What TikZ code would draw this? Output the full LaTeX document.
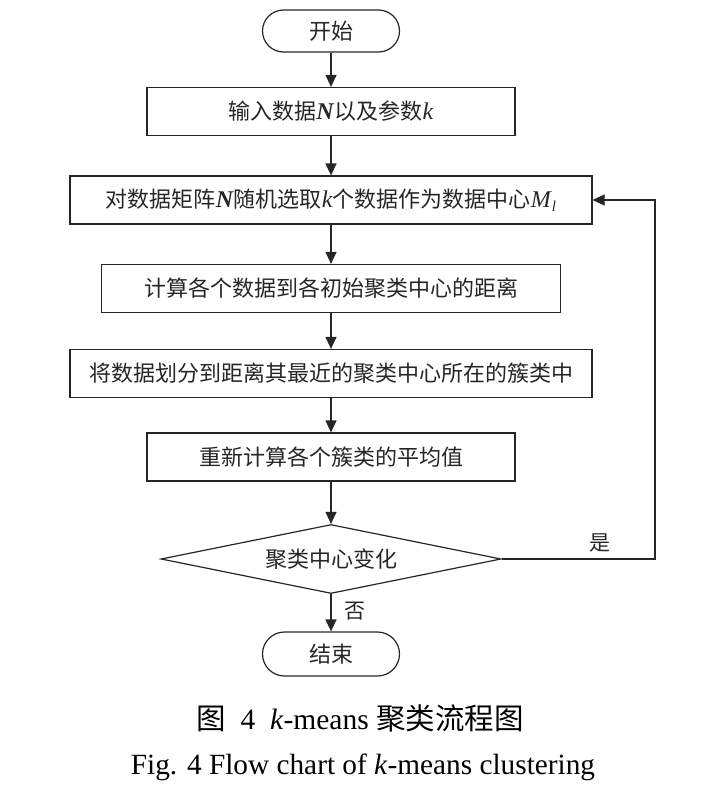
\documentclass[tikz,border=0pt]{standalone}
\usepackage{fontspec}
\setmainfont{Liberation Serif}
\newfontfamily\cjk{Noto Sans CJK SC}
\usetikzlibrary{shapes.geometric,arrows.meta}
\newcommand{\zh}[1]{{\cjk #1}}
\newcommand{\lt}[1]{{\fontsize{24}{25}\selectfont #1}}
\newcommand{\bN}{\lt{\textbf{\textit{N}}}}
\begin{document}
\begin{tikzpicture}[x=1pt,y=-1pt,
  every node/.style={text=black!85, font=\fontsize{22}{25}\selectfont},
  proc/.style={draw=black!85, line width=1.2pt, rectangle, minimum height=48pt, inner sep=0pt},
  term/.style={draw=black!85, line width=1.2pt, rectangle, rounded corners=21pt, minimum width=137pt, minimum height=42pt, inner sep=0pt},
  decis/.style={draw=black!85, line width=1.2pt, diamond, aspect=4.93, minimum width=340pt, minimum height=69pt, inner sep=0pt},
  arr/.style={draw=black!85, line width=1.2pt, -{Triangle[length=12pt,width=11pt]}},
  lbl/.style={font=\fontsize{21}{24}\selectfont}
]
\useasboundingbox (0,0) rectangle (705,798);
\node[term] (start) at (331,31) {\zh{开始}};
\node[proc, minimum width=368pt] (b1) at (331,111.5) {\zh{输入数据}\bN\zh{以及参数}\lt{\textit{k}}};
\node[proc, minimum width=522pt] (b2) at (331,200) {\zh{对数据矩阵}\bN\zh{随机选取}\lt{\textit{k}}\zh{个数据作为数据中心}\lt{\textit{M}}\raisebox{-0.35ex}{\fontsize{15}{16}\selectfont\textit{l}}};
\node[proc, minimum width=459pt] (b3) at (331,288.5) {\zh{计算各个数据到各初始聚类中心的距离}};
\node[proc, minimum width=522pt] (b4) at (331,373.5) {\zh{将数据划分到距离其最近的聚类中心所在的簇类中}};
\node[proc, minimum width=368pt] (b5) at (331,457) {\zh{重新计算各个簇类的平均值}};
\node[decis] (dia) at (331,559) {\zh{聚类中心变化}};
\node[term, minimum height=44pt, rounded corners=22pt] (end) at (331,654) {\zh{结束}};

\draw[arr] (start) -- (b1);
\draw[arr] (b1) -- (b2);
\draw[arr] (b2) -- (b3);
\draw[arr] (b3) -- (b4);
\draw[arr] (b4) -- (b5);
\draw[arr] (b5) -- (dia);
\draw[arr] (dia) -- (end);
\coordinate (loopc) at (655,559);
\draw[arr] (dia.east) -- (loopc) |- (b2.east);
\node[lbl] (yes) at (600,543) {\zh{是}};
\node[lbl] (no) at (355,611) {\zh{否}};

\node[font=\fontsize{29.5}{32}\selectfont, text=black] (cap1) at (360,718) {\zh{图}\enspace4\enspace\textit{k}-means \zh{聚类流程图}};
\node[font=\fontsize{29.3}{32}\selectfont, text=black] (cap2) at (363,767) {Fig. 4 Flow chart of \textit{k}-means clustering};
\end{tikzpicture}
\end{document}
